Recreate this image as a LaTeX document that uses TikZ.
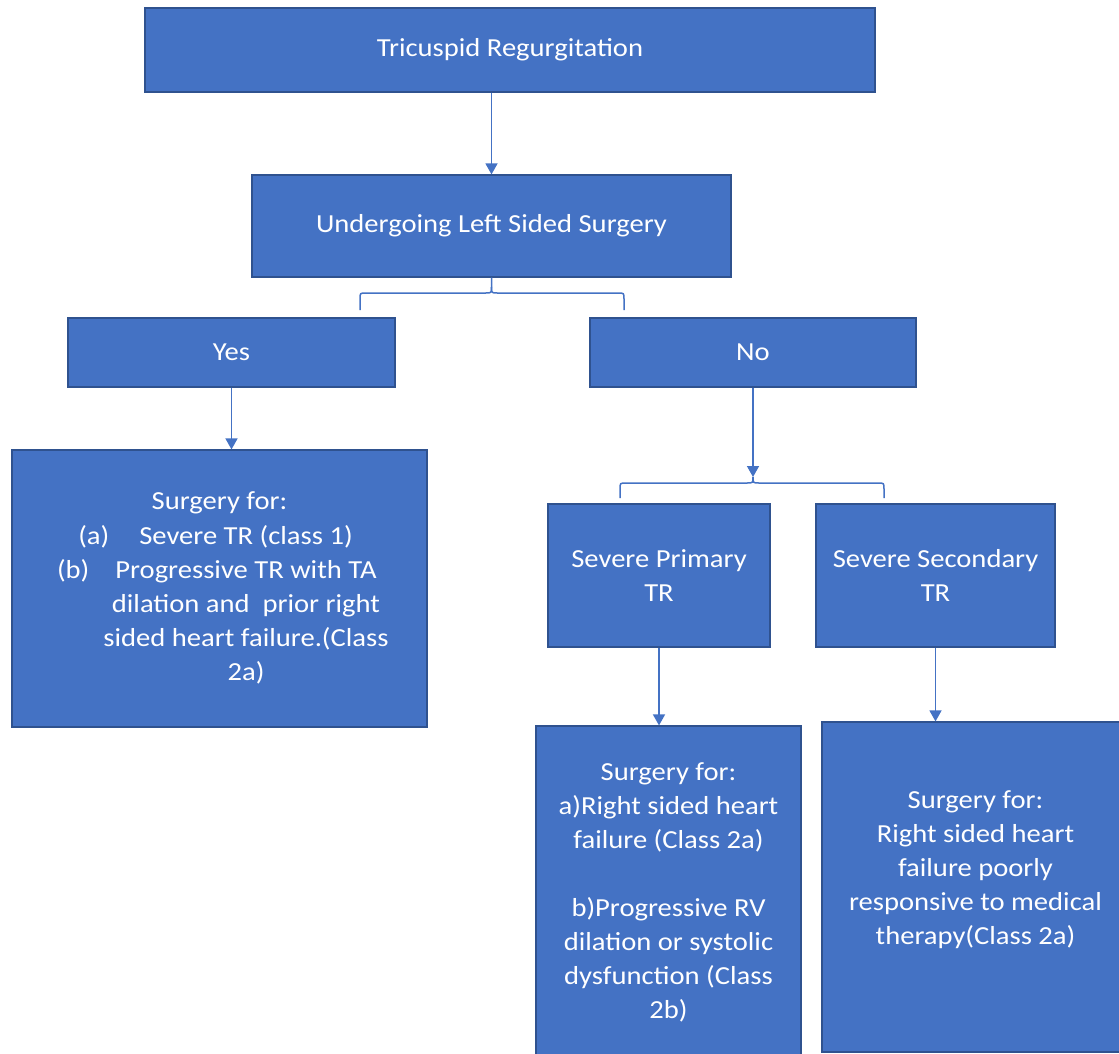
\documentclass[tikz,border=0pt]{standalone}
\usepackage{fontspec}
\setmainfont[FakeStretch=1.1]{Carlito}
\usetikzlibrary{arrows.meta}
\definecolor{boxfill}{HTML}{4472C4}
\definecolor{boxedge}{HTML}{2F528F}
\definecolor{linec}{HTML}{4472C4}
\begin{document}
\begin{tikzpicture}[x=1pt,y=-1pt,
  box/.style={draw=boxedge, line width=1.2pt, fill=boxfill, text=white, align=center, inner sep=0pt, font=\fontsize{26}{34}\selectfont},
  txt/.style={text=white, align=center, inner sep=0pt, font=\fontsize{26}{34}\selectfont},
  conn/.style={draw=linec, line width=1.5pt},
  arr/.style={conn, -{Triangle[width=12pt,length=11pt]}}]
\useasboundingbox (0,0) rectangle (1119,1053);
\fill[white] (0,0) rectangle (1119,1053);

\node[box, minimum width=730pt, minimum height=84pt] (top) at (510,50) {Tricuspid Regurgitation};
\node[box, minimum width=479pt, minimum height=102pt] (und) at (491.5,226) {Undergoing Left Sided Surgery};
\node[box, minimum width=327pt, minimum height=69pt] (yes) at (231.5,352.5) {Yes};
\node[box, minimum width=326pt, minimum height=69pt] (no) at (753,352.5) {No};
\node[box, minimum width=415pt, minimum height=277pt] (left) at (219.5,588.5) {};
\node[box, minimum width=222pt, minimum height=143pt] (prim) at (659,575.5) {Severe Primary\\TR};
\node[box, minimum width=239pt, minimum height=143pt] (sec) at (935.5,575.5) {Severe Secondary\\TR};
\node[box, minimum width=265pt, minimum height=344pt] (pbox) at (668.5,898) {};
\node[box, minimum width=307pt, minimum height=330pt] (sbox) at (975.5,887) {};

\node[txt] (ltitle) at (219.5,503) {Surgery for:};
\node[txt] (llist) at (246,605) {\llap{(a)\hspace{30pt}}Severe TR (class 1)\\
  \llap{(b)\hspace{26pt}}Progressive TR with TA\\
  dilation and\ \ prior right\\
  sided heart failure.(Class\\
  2a)};
\node[txt] (ptxt) at (668.5,892) {Surgery for:\\a)Right sided heart\\failure (Class 2a)\\[34pt]b)Progressive RV\\dilation or systolic\\dysfunction (Class\\2b)};
\node[txt] (stxt) at (975.5,870) {Surgery for:\\Right sided heart\\failure poorly\\responsive to medical\\therapy(Class 2a)};

\coordinate (b1l) at (360,310);
\coordinate (b1r) at (624,310);
\coordinate (b2l) at (620,498);
\coordinate (b2r) at (884,498);
\coordinate (b2top) at (753,477);

% arrows
\draw[arr] (top.south -| und.north) -- (und.north);
\draw[arr] (yes.south) -- (yes.south |- left.north);
\draw[arr] (no.south) -- (b2top);
\draw[arr] (prim.south) -- (prim.south |- pbox.north);
\draw[arr] (sec.south) -- (sec.south |- sbox.north);

% braces
\draw[conn] (b1l) -- (360,299) .. controls (360,293) .. (366,293) -- (485.5,293) .. controls (491.5,293) .. (491.5,287) -- (und.south);
\draw[conn] (491.5,287) .. controls (491.5,293) .. (497.5,293) -- (618,293) .. controls (624,293) .. (624,299) -- (b1r);
\draw[conn] (b2l) -- (620,489) .. controls (620,483) .. (626,483) -- (747,483) .. controls (753,483) .. (b2top);
\draw[conn] (b2top) .. controls (753,483) .. (759,483) -- (878,483) .. controls (884,483) .. (884,489) -- (b2r);
\end{tikzpicture}
\end{document}
